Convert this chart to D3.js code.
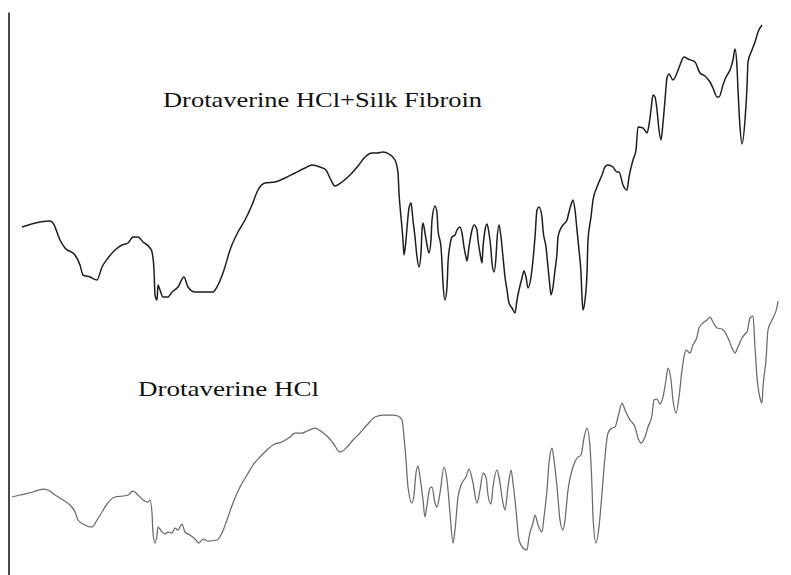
<!DOCTYPE html>
<html>
<head>
<meta charset="utf-8">
<script src="https://cdn.jsdelivr.net/npm/d3@7"></script>
<style>
  html, body { margin: 0; padding: 0; background: #fff; }
  svg { display: block; }
</style>
</head>
<body>
<script>
// FTIR traces, [wavenumber cm-1, transmittance (offset, a.u.)]
var blendSpectrum = [
  [3940, 69.6], [3850, 70.6], [3800, 70.8], [3785, 70.4], [3750, 67.0], [3725, 65.4], [3675, 64.0], [3650, 62.0],
  [3635, 60.0], [3600, 59.6], [3565, 59.0], [3540, 61.6], [3510, 63.4], [3475, 65.0], [3440, 66.0], [3410, 66.4],
  [3385, 67.6], [3360, 67.6], [3335, 66.6], [3300, 65.4], [3290, 64.6], [3280, 61.0], [3275, 56.0], [3265, 55.0],
  [3260, 58.0], [3250, 57.0], [3235, 55.6], [3210, 55.6], [3190, 56.6], [3160, 57.6], [3130, 59.6], [3110, 57.6],
  [3075, 56.6], [3025, 56.6], [2985, 56.6], [2960, 58.0], [2930, 61.0], [2900, 65.0], [2860, 68.6], [2825, 71.0],
  [2790, 74.0], [2760, 77.0], [2725, 78.4], [2675, 78.6], [2625, 79.4], [2575, 80.4], [2525, 81.4], [2490, 82.0],
  [2450, 81.6], [2420, 81.0], [2400, 79.4], [2375, 77.8], [2340, 78.6], [2300, 80.0], [2260, 81.8], [2225, 83.6],
  [2190, 84.4], [2165, 84.4], [2135, 84.6], [2105, 84.2], [2075, 83.0], [2060, 80.4], [2055, 76.4], [2045, 71.6],
  [2035, 67.0], [2030, 64.0], [2020, 67.0], [2015, 69.4], [2005, 73.4], [1995, 74.4], [1990, 73.0], [1985, 71.0],
  [1975, 67.6], [1965, 63.6], [1955, 61.6], [1945, 64.4], [1940, 69.0], [1935, 70.4], [1925, 68.4], [1915, 66.0],
  [1905, 64.4], [1895, 67.0], [1890, 71.0], [1875, 73.8], [1865, 72.4], [1860, 69.0], [1845, 65.6], [1840, 62.4],
  [1835, 58.4], [1825, 55.0], [1815, 57.6], [1810, 62.4], [1800, 66.0], [1790, 67.6], [1775, 68.0], [1765, 69.0],
  [1750, 69.6], [1740, 68.4], [1730, 65.6], [1720, 63.6], [1715, 62.8], [1705, 65.6], [1690, 69.0], [1680, 70.0],
  [1665, 69.0], [1660, 67.0], [1650, 64.4], [1640, 62.4], [1635, 65.6], [1625, 69.0], [1615, 70.2], [1605, 68.4],
  [1595, 65.0], [1590, 62.4], [1580, 60.6], [1570, 63.6], [1565, 67.0], [1555, 70.0], [1545, 67.6], [1535, 63.6],
  [1525, 59.6], [1515, 57.0], [1505, 54.4], [1490, 53.4], [1475, 52.4], [1465, 55.0], [1455, 57.0], [1440, 59.4],
  [1430, 60.8], [1420, 59.6], [1410, 57.4], [1395, 59.6], [1385, 63.0], [1375, 67.6], [1365, 73.0], [1355, 73.6],
  [1340, 71.6], [1335, 69.0], [1320, 65.6], [1310, 61.6], [1300, 57.6], [1295, 56.0], [1285, 57.6], [1275, 61.0],
  [1265, 64.4], [1260, 67.6], [1245, 69.4], [1235, 70.0], [1215, 71.0], [1205, 72.6], [1190, 74.6], [1185, 75.0],
  [1175, 73.0], [1165, 69.0], [1155, 65.0], [1145, 60.4], [1140, 55.6], [1135, 53.0], [1125, 55.0], [1115, 60.4],
  [1110, 67.0], [1095, 71.6], [1085, 75.0], [1065, 77.6], [1040, 80.0], [1025, 81.6], [1010, 82.0], [985, 81.6],
  [965, 80.6], [955, 80.6], [935, 78.0], [915, 77.0], [905, 79.6], [885, 83.0], [870, 85.0], [860, 89.6],
  [835, 89.4], [815, 88.4], [805, 90.0], [795, 93.0], [785, 96.0], [775, 95.6], [765, 93.0], [755, 89.0],
  [745, 87.0], [735, 90.4], [725, 95.0], [715, 99.4], [705, 100.2], [685, 99.0], [665, 100.4], [650, 102.0],
  [630, 103.6], [610, 103.2], [575, 102.6], [550, 100.4], [525, 99.8], [500, 98.6], [485, 97.4], [465, 95.6],
  [455, 95.6], [435, 98.0], [420, 99.6], [400, 101.0], [385, 103.0], [375, 105.2], [365, 101.6], [360, 97.0],
  [350, 89.6], [340, 86.2], [325, 91.0], [315, 97.6], [310, 102.6], [290, 105.0], [275, 106.6], [260, 108.6],
  [240, 110.0]
];

var drugSpectrum = [
  [3990, 15.6], [3950, 16.0], [3885, 16.6], [3835, 17.2], [3810, 17.0], [3775, 16.0], [3735, 15.0], [3700, 14.0],
  [3675, 12.6], [3660, 11.0], [3635, 10.2], [3590, 9.6], [3565, 11.0], [3540, 12.6], [3515, 14.2], [3475, 15.6],
  [3435, 15.8], [3410, 16.0], [3385, 16.8], [3360, 16.0], [3335, 15.0], [3310, 14.6], [3300, 15.0], [3290, 12.4],
  [3285, 8.4], [3275, 6.4], [3265, 8.0], [3260, 9.6], [3240, 8.6], [3225, 8.2], [3210, 8.6], [3190, 8.4],
  [3175, 9.4], [3160, 9.0], [3140, 10.2], [3125, 8.6], [3100, 8.0], [3075, 7.2], [3055, 6.4], [3035, 7.2],
  [3010, 6.8], [2965, 7.0], [2940, 8.4], [2915, 11.0], [2885, 14.4], [2850, 17.6], [2815, 20.0], [2785, 22.0],
  [2750, 23.6], [2715, 25.0], [2685, 26.0], [2640, 26.6], [2600, 27.6], [2575, 28.4], [2540, 28.4], [2515, 28.8],
  [2475, 29.4], [2440, 28.6], [2410, 27.6], [2385, 26.4], [2350, 24.6], [2315, 25.6], [2285, 27.0], [2250, 28.4],
  [2215, 30.0], [2175, 31.6], [2135, 32.0], [2085, 32.0], [2060, 31.8], [2040, 31.0], [2030, 27.6], [2020, 23.0],
  [2010, 17.6], [1990, 14.4], [1980, 16.0], [1970, 20.4], [1960, 21.8], [1950, 19.6], [1935, 15.0], [1925, 11.6],
  [1915, 14.0], [1900, 17.4], [1890, 17.6], [1875, 14.4], [1865, 13.6], [1850, 16.4], [1830, 21.6], [1815, 19.0],
  [1800, 12.4], [1785, 6.4], [1775, 9.0], [1760, 15.6], [1740, 18.4], [1720, 19.6], [1705, 21.2], [1685, 18.4],
  [1665, 14.4], [1650, 17.0], [1635, 20.4], [1620, 19.6], [1610, 16.0], [1595, 14.2], [1585, 17.6], [1565, 21.0],
  [1555, 19.6], [1535, 14.4], [1525, 13.0], [1510, 17.6], [1495, 21.0], [1485, 18.4], [1470, 13.0], [1455, 7.0],
  [1435, 5.4], [1415, 5.0], [1405, 7.6], [1385, 10.4], [1375, 12.0], [1360, 10.0], [1340, 8.6], [1330, 11.6],
  [1315, 17.0], [1305, 22.4], [1290, 25.4], [1280, 23.0], [1265, 17.6], [1250, 11.0], [1235, 9.0], [1225, 11.0],
  [1210, 17.0], [1185, 21.6], [1165, 23.4], [1145, 24.0], [1130, 27.4], [1115, 29.4], [1100, 25.6], [1090, 17.6],
  [1085, 11.6], [1070, 6.4], [1055, 9.6], [1040, 16.4], [1025, 23.6], [1010, 28.4], [990, 29.4], [975, 29.6],
  [960, 31.6], [940, 34.4], [925, 33.0], [900, 31.0], [875, 29.6], [860, 27.4], [845, 26.4], [825, 27.6],
  [810, 29.6], [790, 32.0], [780, 35.0], [765, 35.2], [750, 34.2], [735, 35.6], [720, 39.0], [710, 41.4],
  [695, 39.0], [685, 35.0], [670, 32.4], [655, 35.6], [640, 41.0], [630, 43.6], [620, 45.0], [600, 44.4],
  [585, 46.0], [565, 47.6], [555, 49.4], [535, 50.4], [515, 51.0], [500, 51.6], [485, 50.6], [465, 49.4],
  [440, 49.2], [425, 48.6], [410, 47.4], [390, 45.4], [375, 44.4], [360, 45.6], [340, 47.4], [325, 48.2],
  [315, 48.6], [300, 51.4], [285, 51.8], [275, 45.6], [265, 39.6], [250, 35.4], [240, 34.4], [235, 37.6],
  [220, 43.0], [210, 49.0], [190, 51.0], [165, 53.6], [160, 54.8]
];

var seriesNames = ["Drotaverine HCl+Silk Fibroin", "Drotaverine HCl"];
var wavenumberRange = [4000, 160];
var transmittanceRange = [0, 115];

var width = 791, height = 575;

var svg = d3.select("body").append("svg")
    .attr("width", width)
    .attr("height", height);

var x = d3.scaleLinear().domain(wavenumberRange).range([10, 778]);
var y = d3.scaleLinear().domain(transmittanceRange).range([height, 0]);

// bare left axis, no ticks
svg.append("g")
    .attr("transform", "translate(8.5,0)")
    .call(d3.axisLeft(y.copy().range([height, 12])).ticks(0).tickSizeOuter(0))
    .select(".domain")
    .attr("stroke", "#333")
    .attr("stroke-width", 1.8);

var line = d3.line()
    .curve(d3.curveMonotoneX)
    .x(function(d) { return x(d[0]); })
    .y(function(d) { return y(d[1]); });

svg.append("path")
    .datum(drugSpectrum)
    .attr("fill", "none")
    .attr("stroke", "#6a6a6a")
    .attr("stroke-width", 1.25)
    .attr("stroke-linejoin", "round")
    .attr("d", line);

svg.append("path")
    .datum(blendSpectrum)
    .attr("fill", "none")
    .attr("stroke", "#1e1e1e")
    .attr("stroke-width", 1.5)
    .attr("stroke-linejoin", "round")
    .attr("d", line);

// labels
var labelPos = [[3235, 93.6, 319], [3360, 35.8, 181]];
svg.selectAll("text.label")
    .data(seriesNames)
    .enter()
    .append("text")
    .attr("class", "label")
    .attr("x", function(d, i) { return x(labelPos[i][0]); })
    .attr("y", function(d, i) { return y(labelPos[i][1]); })
    .attr("textLength", function(d, i) { return labelPos[i][2]; })
    .attr("lengthAdjust", "spacingAndGlyphs")
    .style("font-family", "'Liberation Serif', 'DejaVu Serif', serif")
    .style("font-size", "22px")
    .style("fill", "#111")
    .text(function(d) { return d; });
</script>
</body>
</html>
